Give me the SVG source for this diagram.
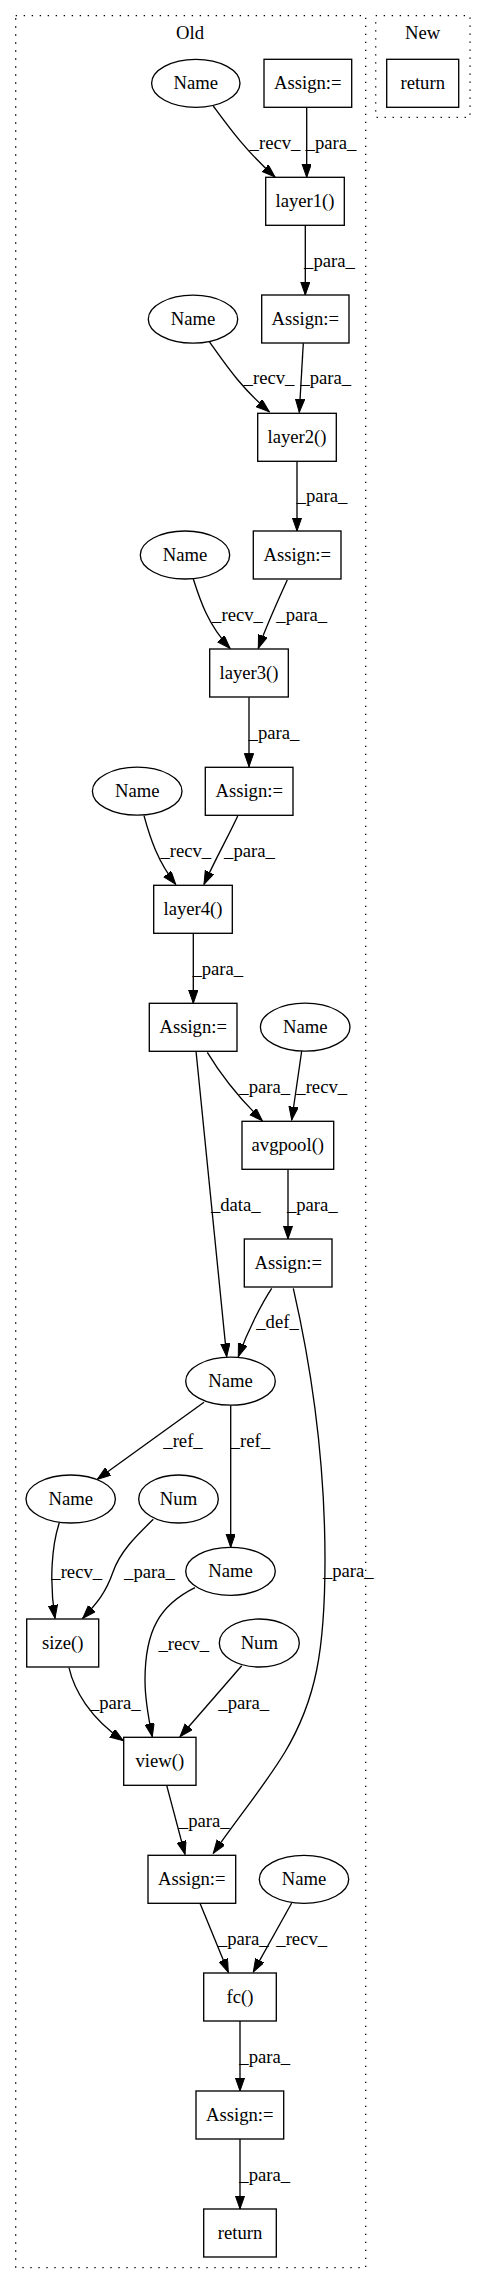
<svg xmlns="http://www.w3.org/2000/svg" width="485" height="2284" viewBox="0 0 485 2284">
<style>
text{font-family:"Liberation Serif","Times New Roman",serif;font-size:18.67px;fill:#000}
.n text{text-anchor:middle}
.n rect,.n ellipse{fill:#fff;stroke:#000;stroke-width:1.33}
.cl{fill:none;stroke:#000;stroke-width:1.33;stroke-dasharray:1.33,6.67}
.e path{fill:none;stroke:#000;stroke-width:1.33;marker-end:url(#ah)}
.e text{text-anchor:middle}
</style>
<defs>
<marker id="ah" markerUnits="userSpaceOnUse" markerWidth="14" markerHeight="10" refX="13.3" refY="4.67" orient="auto">
<path d="M0,0 L13.3,4.67 L0,9.33 z" fill="#000" stroke="#000" stroke-width="1"/>
</marker>
</defs>
<rect width="485" height="2284" fill="#fff"/>
<g id="cluster_old">
<rect class="cl" x="15.7" y="15.7" width="350" height="2252"/>
<text x="190" y="39" text-anchor="middle">Old</text>
</g>
<g id="cluster_new">
<rect class="cl" x="375.7" y="15.7" width="94.3" height="101.6"/>
<text x="422.7" y="39" text-anchor="middle">New</text>
</g>
<g id="edges" class="e">
<path d="M213.3,106 C228,126 245,150 275,177"/><text x="275" y="149">_recv_</text>
<path d="M306.7,107.3 L306.7,177.3"/><text x="331" y="149">_para_</text>
<path d="M305.3,225 L305.3,295"/><text x="329.5" y="267">_para_</text>
<path d="M209.3,341.7 C224,362 240,387 269.3,411.7"/><text x="269" y="384">_recv_</text>
<path d="M303.3,343.3 L299.3,412.3"/><text x="325.8" y="384">_para_</text>
<path d="M297,461 L297,531"/><text x="322" y="502">_para_</text>
<path d="M193.3,579 C200,600 208,625 230,648.3"/><text x="237.5" y="621">_recv_</text>
<path d="M287.3,580 C280,596 268,622 258.3,648.3"/><text x="301.7" y="621">_para_</text>
<path d="M249,697.3 L249,766.7"/><text x="274" y="739">_para_</text>
<path d="M144,815.7 C150,838 158,862 175.7,884.3"/><text x="185.8" y="856.7">_recv_</text>
<path d="M237.7,816 C230,833 216,858 204,884.3"/><text x="249.5" y="856.7">_para_</text>
<path d="M193.3,933.3 L193.3,1003.3"/><text x="217.8" y="975">_para_</text>
<path d="M207.3,1052.3 C218,1070 236,1095 262.3,1120.7"/><text x="264.7" y="1093.3">_para_</text>
<path d="M301.7,1051 L291.7,1120"/><text x="321.7" y="1093.3">_recv_</text>
<path d="M196,1051 L226.7,1356.7"/><text x="235.8" y="1210.7">_data_</text>
<path d="M288,1169.3 L288,1239"/><text x="312.3" y="1210.7">_para_</text>
<path d="M271.7,1288.3 C262,1303 248,1330 238.3,1356.7"/><text x="277.5" y="1327.7">_def_</text>
<path d="M293.3,1288.3 C312,1370 325,1460 325,1560 C325,1650 316,1700 285,1752 C265,1785 240,1815 213.3,1853.3"/><text x="348.3" y="1577.3">_para_</text>
<path d="M204,1402.3 L97.3,1479.3"/><text x="183" y="1446.7">_ref_</text>
<path d="M230.7,1405 L230.7,1547.3"/><text x="250.3" y="1446.7">_ref_</text>
<path d="M59.3,1522.7 C52,1545 49,1580 55,1618.3"/><text x="76.7" y="1578.3">_recv_</text>
<path d="M153.3,1519.3 C135,1537 120,1552 113,1572 C106,1592 98,1602 82.7,1618.3"/><text x="149.5" y="1578.3">_para_</text>
<path d="M69,1667.7 C74,1690 90,1718 123.3,1740.7"/><text x="115.3" y="1709">_para_</text>
<path d="M195,1587.7 C160,1605 145,1630 145,1680 C145,1700 148,1716 152.3,1736.7"/><text x="183.8" y="1650">_recv_</text>
<path d="M241.7,1665.7 L180,1736.7"/><text x="243.7" y="1709">_para_</text>
<path d="M166.7,1785.3 L185,1854.3"/><text x="204.2" y="1827.3">_para_</text>
<path d="M200,1903.3 L228.3,1972.3"/><text x="243.3" y="1945">_para_</text>
<path d="M291.7,1903 L253.3,1972"/><text x="301.7" y="1945">_recv_</text>
<path d="M240,2021 L240,2091"/><text x="264.7" y="2062.7">_para_</text>
<path d="M240,2139 L240,2209"/><text x="264.7" y="2180.7">_para_</text>
</g>
<g id="new_return" class="n"><rect x="386.7" y="59.3" width="72" height="48"/><text x="422.7" y="89">return</text></g>
<g id="name1" class="n"><ellipse cx="195.8" cy="83.3" rx="44.2" ry="24"/><text x="195.8" y="89">Name</text></g>
<g id="assign1" class="n"><rect x="264" y="59.3" width="87.7" height="48"/><text x="307.8" y="89">Assign:=</text></g>
<g id="layer1" class="n"><rect x="265.7" y="177.3" width="78.6" height="48"/><text x="305" y="207">layer1()</text></g>
<g id="name2" class="n"><ellipse cx="193" cy="319.2" rx="44.7" ry="24"/><text x="193" y="325">Name</text></g>
<g id="assign2" class="n"><rect x="261.7" y="295" width="87.3" height="48"/><text x="305.3" y="325">Assign:=</text></g>
<g id="layer2" class="n"><rect x="257.7" y="413.3" width="78.6" height="48"/><text x="297" y="443">layer2()</text></g>
<g id="name3" class="n"><ellipse cx="185" cy="555" rx="44.7" ry="24"/><text x="185" y="560.8">Name</text></g>
<g id="assign3" class="n"><rect x="253.3" y="531" width="87.7" height="48"/><text x="297.2" y="560.8">Assign:=</text></g>
<g id="layer3" class="n"><rect x="209.7" y="649" width="78.6" height="48"/><text x="249" y="678.8">layer3()</text></g>
<g id="name4" class="n"><ellipse cx="137.2" cy="791.2" rx="44.8" ry="24"/><text x="137.2" y="797">Name</text></g>
<g id="assign4" class="n"><rect x="205.3" y="767.3" width="87.7" height="48"/><text x="249.2" y="797">Assign:=</text></g>
<g id="layer4" class="n"><rect x="153.7" y="885.3" width="78.6" height="48"/><text x="193" y="915">layer4()</text></g>
<g id="assign5" class="n"><rect x="149.3" y="1003.3" width="87.7" height="48"/><text x="193.2" y="1033">Assign:=</text></g>
<g id="name5" class="n"><ellipse cx="305.2" cy="1027.2" rx="44.8" ry="24"/><text x="305.2" y="1033">Name</text></g>
<g id="avgpool" class="n"><rect x="242" y="1121.3" width="91.7" height="48"/><text x="287.8" y="1151">avgpool()</text></g>
<g id="assign6" class="n"><rect x="244.3" y="1239" width="87.7" height="48"/><text x="288.2" y="1268.8">Assign:=</text></g>
<g id="name6" class="n"><ellipse cx="230.5" cy="1381.2" rx="44.8" ry="24"/><text x="230.5" y="1387">Name</text></g>
<g id="name7" class="n"><ellipse cx="70.7" cy="1499" rx="44.7" ry="24"/><text x="70.7" y="1504.8">Name</text></g>
<g id="num1" class="n"><ellipse cx="178.5" cy="1499" rx="39.8" ry="24"/><text x="178.5" y="1504.8">Num</text></g>
<g id="name8" class="n"><ellipse cx="230.5" cy="1571.3" rx="44.8" ry="24"/><text x="230.5" y="1577.1">Name</text></g>
<g id="size" class="n"><rect x="26.7" y="1619" width="72" height="48"/><text x="62.7" y="1648.8">size()</text></g>
<g id="num2" class="n"><ellipse cx="259.3" cy="1643" rx="40" ry="24"/><text x="259.3" y="1648.8">Num</text></g>
<g id="view" class="n"><rect x="123.7" y="1737.3" width="72.3" height="48"/><text x="159.8" y="1767.1">view()</text></g>
<g id="assign7" class="n"><rect x="148" y="1855.3" width="87.7" height="48"/><text x="191.8" y="1885.1">Assign:=</text></g>
<g id="name9" class="n"><ellipse cx="304" cy="1879.3" rx="44.7" ry="24"/><text x="304" y="1885.1">Name</text></g>
<g id="fc" class="n"><rect x="203.7" y="1973" width="72.6" height="48"/><text x="240" y="2002.8">fc()</text></g>
<g id="assign8" class="n"><rect x="196" y="2091" width="87.7" height="48"/><text x="239.8" y="2120.8">Assign:=</text></g>
<g id="return_old" class="n"><rect x="203.7" y="2209" width="72.6" height="48"/><text x="240" y="2238.8">return</text></g>
</svg>
